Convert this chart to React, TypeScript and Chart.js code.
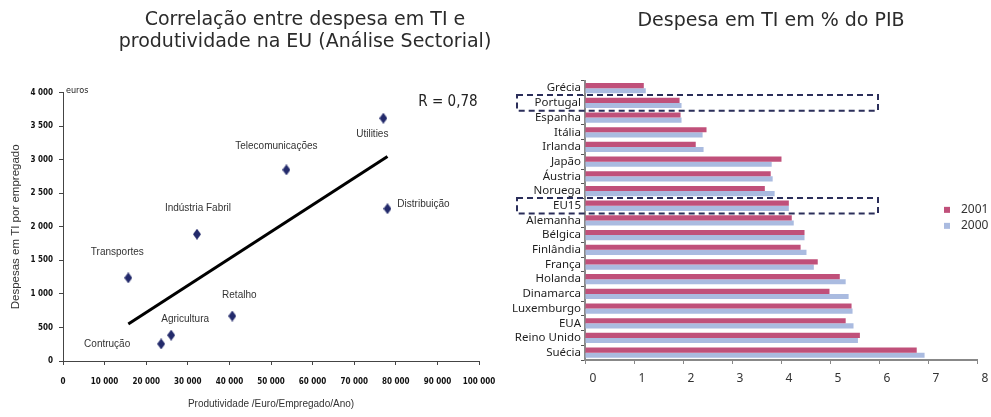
import React, { useEffect, useRef } from "react";
import { Chart, registerables } from "chart.js";

Chart.register(...registerables);

// ---------- Left chart data (scatter) ----------
const sectors = [
  "Utilities",
  "Telecomunicações",
  "Distribuição",
  "Indústria Fabril",
  "Transportes",
  "Retalho",
  "Agricultura",
  "Contrução",
];
const produtividade = [77000, 53700, 78000, 32200, 15700, 40700, 26000, 23600];
const despesaTI = [3620, 2850, 2270, 1890, 1240, 670, 385, 255];
const trendX = [15700, 78000];
const trendY = [550, 3050];
const correlationText = "R = 0,78";
const unitText = "euros";
const leftTitle = ["Correlação entre despesa em TI e", "produtividade na EU (Análise Sectorial)"];
const leftXTitle = "Produtividade /Euro/Empregado/Ano)";
const leftYTitle = "Despesas em TI por empregado";
// label offsets (dx, dy) relative to each point
const labelOffsets = [
  [-11, 16],
  [-10, -24],
  [36, -4],
  [1, -26],
  [-11, -26],
  [7, -21],
  [14, -16],
  [-54, 0],
];

// ---------- Right chart data (horizontal bars) ----------
const countries = [
  "Grécia",
  "Portugal",
  "Espanha",
  "Itália",
  "Irlanda",
  "Japão",
  "Áustria",
  "Noruega",
  "EU15",
  "Alemanha",
  "Bélgica",
  "Finlândia",
  "França",
  "Holanda",
  "Dinamarca",
  "Luxemburgo",
  "EUA",
  "Reino Unido",
  "Suécia",
];
const pib2001 = [1.2, 1.93, 1.95, 2.48, 2.26, 4.01, 3.79, 3.67, 4.16, 4.22, 4.48, 4.4, 4.75, 5.2, 4.99, 5.44, 5.32, 5.61, 6.77];
const pib2000 = [1.24, 1.97, 1.97, 2.4, 2.42, 3.81, 3.83, 3.87, 4.16, 4.26, 4.48, 4.52, 4.67, 5.32, 5.38, 5.46, 5.48, 5.57, 6.93];
const seriesNames = ["2001", "2000"];
const highlighted = ["Portugal", "EU15"];
const rightTitle = "Despesa em TI em % do PIB";

const PINK = "#C0507A";
const BLUE = "#AABBE0";
const NAVY = "#232A6B";

const fmt = (v: number) => String(v).replace(/\B(?=(\d{3})+(?!\d))/g, " ");

function makeDiamond(): HTMLCanvasElement {
  const c = document.createElement("canvas");
  c.width = 8;
  c.height = 11;
  const ctx = c.getContext("2d")!;
  ctx.fillStyle = NAVY;
  ctx.beginPath();
  ctx.moveTo(4, 0);
  ctx.lineTo(8, 5.5);
  ctx.lineTo(4, 11);
  ctx.lineTo(0, 5.5);
  ctx.closePath();
  ctx.fill();
  return c;
}

const NARROW = "'Liberation Sans Narrow', 'DejaVu Sans Condensed', sans-serif";
const ARIAL = "'Liberation Sans', Arial, sans-serif";

// invisible axis used only to reserve space on the right side
const spacer = (w: number) => ({
  type: "linear" as const,
  position: "right" as const,
  display: true,
  grid: { display: false },
  border: { display: false },
  ticks: { display: false },
  afterFit: (s: any) => {
    s.width = w;
  },
});

export default function App() {
  const leftRef = useRef<HTMLCanvasElement>(null);
  const rightRef = useRef<HTMLCanvasElement>(null);

  useEffect(() => {
    const diamond = makeDiamond();

    const sectorLabels = {
      id: "sectorLabels",
      afterDatasetsDraw(chart: any) {
        const ctx = chart.ctx;
        const meta = chart.getDatasetMeta(0);
        ctx.save();
        ctx.font = `10px ${ARIAL}`;
        ctx.fillStyle = "#333";
        ctx.textAlign = "center";
        ctx.textBaseline = "middle";
        meta.data.forEach((el: any, i: number) => {
          const [dx, dy] = labelOffsets[i];
          ctx.fillText(sectors[i], el.x + dx, el.y + dy);
        });
        const a = chart.chartArea;
        ctx.font = `15px ${NARROW}`;
        ctx.fillStyle = "#222";
        ctx.fillText(correlationText, a.right - 31, a.top + 9);
        ctx.font = `9px ${NARROW}`;
        ctx.textAlign = "left";
        ctx.fillText(unitText, a.left + 3, a.top - 2);
        ctx.restore();
      },
    };

    const left = new Chart(leftRef.current!, {
      type: "scatter",
      data: {
        datasets: [
          {
            data: produtividade.map((x, i) => ({ x, y: despesaTI[i] })),
            pointStyle: diamond as any,
            pointRadius: 5,
            backgroundColor: NAVY,
            borderColor: NAVY,
          },
          {
            data: trendX.map((x, i) => ({ x, y: trendY[i] })),
            showLine: true,
            borderColor: "#000",
            borderWidth: 3,
            pointRadius: 0,
          },
        ],
      },
      options: {
        responsive: false,
        animation: false,
        layout: { padding: 0 },
        plugins: {
          legend: { display: false },
          tooltip: { enabled: false },
          title: {
            display: true,
            text: leftTitle,
            color: "#2b2b2b",
            font: { family: "'DejaVu Sans', sans-serif", size: 19, weight: "normal", lineHeight: 1.15 },
            padding: { top: 9, bottom: 40 },
          },
        },
        scales: {
          x: {
            type: "linear",
            min: 0,
            max: 100000,
            afterFit: (s: any) => {
              s.height = 56;
            },
            border: { color: "#444", width: 1 },
            grid: { drawOnChartArea: false, tickLength: 4, color: "#444" },
            ticks: {
              stepSize: 10000,
              autoSkip: false,
              maxRotation: 0,
              padding: 12,
              color: "#111",
              font: { family: NARROW, size: 8, weight: "bold" },
              callback: (v: any) => fmt(Number(v)),
            },
            title: {
              display: true,
              text: leftXTitle,
              color: "#333",
              font: { family: ARIAL, size: 10 },
              padding: { top: 4, bottom: 7 },
            },
          },
          y: {
            type: "linear",
            min: 0,
            max: 4000,
            afterFit: (s: any) => {
              s.width = 63;
            },
            border: { color: "#444", width: 1 },
            grid: { drawOnChartArea: false, tickLength: 4, color: "#444" },
            ticks: {
              stepSize: 500,
              padding: 6,
              color: "#111",
              font: { family: NARROW, size: 8, weight: "bold" },
              callback: (v: any) => fmt(Number(v)),
            },
            title: {
              display: true,
              text: leftYTitle,
              color: "#333",
              font: { family: ARIAL, size: 11.5 },
              padding: { top: 9, bottom: 0 },
            },
          },
          pad: spacer(131) as any,
        },
      },
      plugins: [sectorLabels],
    });

    const overlay = {
      id: "overlay",
      afterDraw(chart: any) {
        const ctx = chart.ctx;
        const a = chart.chartArea;
        const yScale = chart.scales.y;
        const step = yScale.getPixelForValue(1) - yScale.getPixelForValue(0);
        ctx.save();
        ctx.strokeStyle = "#2B2E5A";
        ctx.lineWidth = 2;
        ctx.setLineDash([6, 4]);
        highlighted.forEach((name) => {
          const idx = countries.indexOf(name);
          const cy = yScale.getPixelForValue(idx);
          const h = step + 1;
          ctx.strokeRect(a.left - 68, cy - h / 2, 361, h);
        });
        ctx.setLineDash([]);
        // legend
        const colors = [PINK, BLUE];
        ctx.font = "12px 'Noto Sans', sans-serif";
        ctx.textBaseline = "middle";
        ctx.textAlign = "left";
        seriesNames.forEach((n, i) => {
          const y = a.top + 129 + i * 16;
          const x = a.right - 33;
          ctx.fillStyle = colors[i];
          ctx.fillRect(x, y - 3, 6, 6);
          ctx.fillStyle = "#333";
          ctx.fillText(n, x + 17, y);
        });
        ctx.restore();
      },
    };

    const right = new Chart(rightRef.current!, {
      type: "bar",
      data: {
        labels: countries,
        datasets: [
          { label: seriesNames[0], data: pib2001, backgroundColor: PINK, categoryPercentage: 0.7, barPercentage: 1 },
          { label: seriesNames[1], data: pib2000, backgroundColor: BLUE, categoryPercentage: 0.7, barPercentage: 1 },
        ],
      },
      options: {
        indexAxis: "y",
        responsive: false,
        animation: false,
        layout: { padding: 0 },
        plugins: {
          legend: { display: false },
          tooltip: { enabled: false },
          title: {
            display: true,
            text: rightTitle,
            color: "#2b2b2b",
            font: { family: "'DejaVu Sans', sans-serif", size: 19, weight: "normal", lineHeight: 1.15 },
            padding: { top: 10, bottom: 49 },
          },
        },
        scales: {
          x: {
            min: 0,
            max: 8,
            afterFit: (s: any) => {
              s.height = 57;
            },
            border: { color: "#888", width: 2 },
            grid: { drawOnChartArea: false, tickLength: 4, color: "#888" },
            ticks: {
              stepSize: 1,
              padding: 7,
              labelOffset: 8,
              color: "#333",
              font: { family: "'Noto Sans', sans-serif", size: 12 },
            },
          },
          y: {
            afterFit: (s: any) => {
              s.width = 75;
            },
            border: { color: "#8a8a8a", width: 2 },
            grid: { drawOnChartArea: false, tickLength: 4, color: "#555", offset: true },
            ticks: {
              autoSkip: false,
              padding: 0,
              color: "#1e1e1e",
              font: { family: "'Noto Sans', sans-serif", size: 11.5 },
            },
          },
          pad: spacer(55) as any,
        },
      },
      plugins: [overlay],
    });

    return () => {
      left.destroy();
      right.destroy();
    };
  }, []);

  return (
    <div
      style={{
        position: "absolute",
        left: 0,
        top: 0,
        width: 991,
        height: 417,
        overflow: "hidden",
        background: "#fff",
      }}
    >
      <canvas ref={leftRef} width={610} height={417} style={{ position: "absolute", left: 0, top: 0 }} />
      <canvas ref={rightRef} width={522} height={417} style={{ position: "absolute", left: 510, top: 0 }} />
    </div>
  );
}
